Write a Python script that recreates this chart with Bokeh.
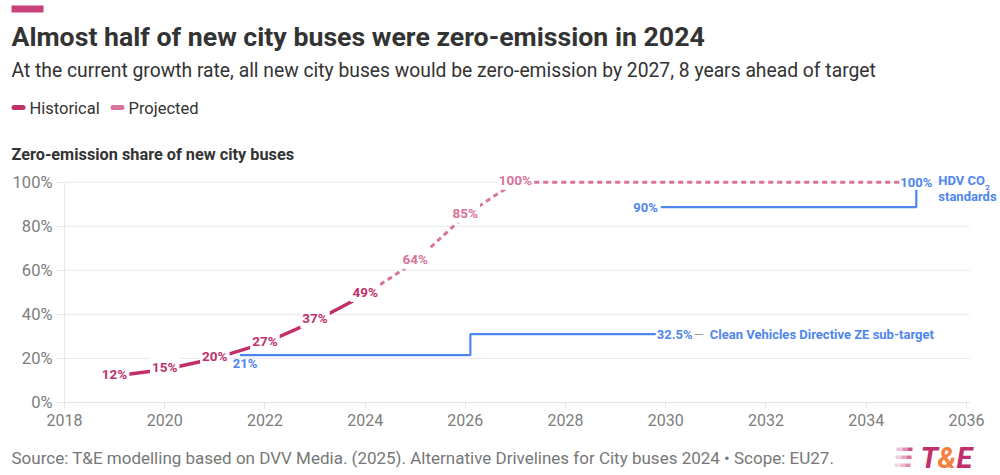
from bokeh.plotting import figure
from bokeh.models import Range1d, Label, BoxAnnotation, FixedTicker, ColumnDataSource
from bokeh.core.properties import value
from bokeh.embed import file_html
from bokeh.resources import INLINE

# ---------------- data ----------------
hist_years = [2019, 2020, 2021, 2022, 2023, 2024]
hist_share = [12, 15, 20, 27, 37, 49]
hist_labels = ["12%", "15%", "20%", "27%", "37%", "49%"]

proj_years = [2024, 2025, 2026, 2027, 2035]
proj_share = [49, 64, 85, 100, 100]
proj_label_years = [2025, 2026, 2027]
proj_label_share = [64, 85, 100]
proj_labels = ["64%", "85%", "100%"]

cvd_years = [2021.5, 2026.1, 2026.1, 2029.8]
cvd_share = [21.5, 21.5, 31, 31]

hdv_years = [2029.9, 2035, 2035]
hdv_share = [88.7, 88.7, 100]

x_ticks = [2018, 2020, 2022, 2024, 2026, 2028, 2030, 2032, 2034, 2036]
y_ticks = [0, 20, 40, 60, 80, 100]
y_tick_labels = ["0%", "20%", "40%", "60%", "80%", "100%"]

# ---------------- style ----------------
HIST = "#c2306c"
PROJ = "#d9739c"
BLUE = "#4f86ee"
FONT = "Roboto"
GRID = "#e8e8e8"
W = 1000
H_HDR, H_MAIN, H_FTR = 165, 275, 35
K = 0.33  # baseline correction (fraction of font size)


def blank(height, y0, y1):
    f = figure(width=W, height=height, output_backend="svg", toolbar_location=None,
               x_range=Range1d(0, W), y_range=Range1d(y1, y0),
               x_axis_type=None, y_axis_type=None, min_border=0)
    f.outline_line_color = None
    f.grid.visible = False
    return f


def tlab(fig, x, y, text, size, color, style="normal", align="left"):
    fs = float(size.replace("px", ""))
    fig.add_layout(Label(x=x, y=y - K * fs, text=text, text_font=FONT, text_font_size=size,
                         text_color=color, text_font_style=style,
                         text_align=align, text_baseline="alphabetic"))


def box(fig, l, r, t, b, color, alpha=1.0, radius=0):
    fig.add_layout(BoxAnnotation(left=l, right=r, top=t, bottom=b, fill_color=color,
                                 fill_alpha=alpha, line_color=None, border_radius=radius))


# ---------------- header ----------------
hdr = blank(H_HDR, 0, H_HDR)
box(hdr, 11, 43, 5, 12, "#c8417b")
tlab(hdr, 11, 45, "Almost half of new city buses were zero-emission in 2024", "26.7px", "#333333", "bold")
tlab(hdr, 11, 76, "At the current growth rate, all new city buses would be zero-emission by 2027, 8 years ahead of target",
     "19.3px", "#333333")
box(hdr, 11, 25, 104.5, 109.5, HIST, radius=3)
tlab(hdr, 29, 113, "Historical", "16.5px", "#333333")
box(hdr, 110, 124, 104.5, 109.5, PROJ, radius=3)
tlab(hdr, 128, 113, "Projected", "16.5px", "#333333")
tlab(hdr, 11, 159, "Zero-emission share of new city buses", "16.3px", "#333333", "bold")

# ---------------- main chart ----------------
p = figure(width=W, height=H_MAIN, output_backend="svg", toolbar_location=None,
           x_range=Range1d(2018, 2036.68), y_range=Range1d(0, 106.2))
p.min_border_left = 64
p.min_border_right = 0
p.min_border_top = 3
p.min_border_bottom = 38
p.outline_line_color = None

p.xaxis.ticker = FixedTicker(ticks=x_ticks)
p.xaxis.bounds = (2018, 2036.06)
p.xaxis.axis_line_color = "#e3e3e3"
p.xaxis.major_tick_line_color = "#e3e3e3"
p.xaxis.major_tick_out = 6
p.xaxis.major_tick_in = 0
p.xaxis.minor_tick_line_color = None
p.xaxis.major_label_standoff = 5
p.xaxis.major_label_text_font = FONT
p.xaxis.major_label_text_font_size = "16px"
p.xaxis.major_label_text_color = "#7d7d7d"

p.yaxis.ticker = FixedTicker(ticks=y_ticks)
p.yaxis.major_label_overrides = {t: l for t, l in zip(y_ticks, y_tick_labels)}
p.yaxis.bounds = (0, 100)
p.yaxis.axis_line_color = GRID
p.yaxis.major_tick_line_color = GRID
p.yaxis.major_tick_out = 8
p.yaxis.major_tick_in = 0
p.yaxis.minor_tick_line_color = None
p.yaxis.major_label_standoff = 4
p.yaxis.major_label_text_font = FONT
p.yaxis.major_label_text_font_size = "16.5px"
p.yaxis.major_label_text_color = "#7d7d7d"

p.xgrid.grid_line_color = None
p.ygrid.grid_line_color = None
# horizontal grid lines, ending where the x axis ends
p.segment(x0=[x_ticks[0]] * len(y_ticks), x1=[2036.06] * len(y_ticks),
          y0=y_ticks, y1=y_ticks, line_color=GRID, line_width=1)

# series lines
p.line(cvd_years, cvd_share, line_color=BLUE, line_width=2.2)
p.line(hdv_years, hdv_share, line_color=BLUE, line_width=2.2)
p.line(proj_years, proj_share, line_color=PROJ, line_width=3, line_dash="5 4")
p.line(hist_years, hist_share, line_color=HIST, line_width=3.5, line_cap="round")

# data labels
hist_src = ColumnDataSource(dict(x=hist_years, y=hist_share, t=hist_labels))
proj_src = ColumnDataSource(dict(x=proj_label_years, y=proj_label_share, t=proj_labels))
for src, col in ((hist_src, HIST), (proj_src, PROJ)):
    p.text(x="x", y="y", text="t", source=src, text_font=value(FONT),
           text_font_style="bold", text_font_size="13.5px", text_color=col,
           text_align="center", text_baseline="middle", y_offset=-2.5,
           background_fill_color="white", padding=2)


def lab(x, y, text, color=BLUE, size="13px", align="left", xo=0, yo=0, bold=True, bg=None):
    kw = dict(x=x, y=y, text=text, text_color=color, text_font=FONT,
              text_font_size=size, text_align=align, text_baseline="middle",
              x_offset=xo, y_offset=yo,
              text_font_style="bold" if bold else "normal")
    if bg:
        kw["background_fill_color"] = bg
    p.add_layout(Label(**kw))


lab(2021.5, 21.5, "21%", xo=-7, yo=-8)
lab(2029.9, 88.7, "90%", align="right", xo=-3)
lab(2035, 100, "100%", align="center", bg="white")
lab(2035, 100, "HDV CO", xo=22, yo=2)
lab(2035, 100, "2", size="8px", xo=69, yo=-5)
lab(2035, 100, "standards", xo=22, yo=-14)
lab(2029.8, 31, "32.5%", xo=1)
lab(2029.8, 31, "\u2014", color="#9a9a9a", xo=38, bold=False)
lab(2029.8, 31, "Clean Vehicles Directive ZE sub-target", xo=54)

# ---------------- footer ----------------
ftr = blank(H_FTR, 440, 475)
tlab(ftr, 11, 463.5,
     "Source: T&E modelling based on DVV Media. (2025). Alternative Drivelines for City buses 2024 \u2022 Scope: EU27.",
     "17px", "#777777")
for yy, a, r in ((447, 0.9, 912), (455, 0.75, 911), (463, 0.6, 910)):
    box(ftr, r - 16, r - 10, yy, yy + 3.5, "#c8417b", alpha=a * 0.35)
    box(ftr, r - 10, r - 5, yy, yy + 3.5, "#c8417b", alpha=a * 0.65)
    box(ftr, r - 5, r, yy, yy + 3.5, "#c8417b", alpha=a)
tlab(ftr, 920, 467, "T", "29px", "#c2306c", "bold italic")
tlab(ftr, 937, 467, "&", "29px", "#f47f3e", "bold italic")
tlab(ftr, 956, 467, "E", "29px", "#c2306c", "bold italic")

open("out.html", "w").write(file_html([hdr, p, ftr], INLINE))
